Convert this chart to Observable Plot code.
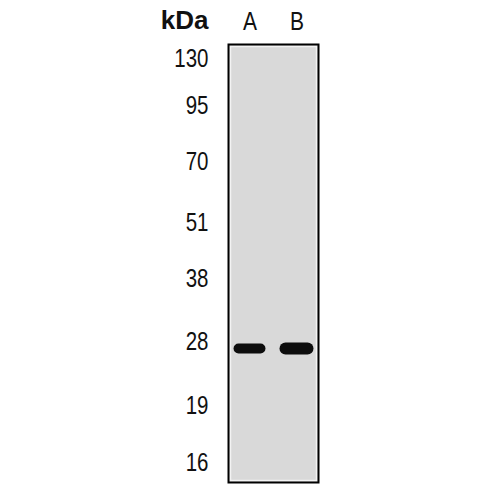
<!DOCTYPE html>
<html><head><meta charset="utf-8">
<script src="https://cdn.jsdelivr.net/npm/d3@7"></script>
<script src="https://cdn.jsdelivr.net/npm/@observablehq/plot@0.6"></script>
<style>body{margin:0;background:#fff;}</style>
</head><body><div id="chart"></div>
<script>
const lanes = ["A", "B"];
const markerKDa = [130, 95, 70, 51, 38, 28, 19, 16];
const markerRf = [0.032, 0.139, 0.267, 0.405, 0.534, 0.677, 0.824, 0.954];
const bandLane = ["A", "B"];
const bandRf = [0.694, 0.694];
const bandIntensity = [0.83, 1.0];

const bands = bandLane.map((l, i) => ({lane: l, rf: bandRf[i], intensity: bandIntensity[i]}));

const font = "'Liberation Sans', Arial, sans-serif";
const chart = Plot.plot({
  width: 500, height: 500,
  marginTop: 44, marginBottom: 18, marginLeft: 228, marginRight: 182,
  style: {fontFamily: font, fontSize: "21px", color: "#111", background: "#fff"},
  x: {type: "band", domain: lanes, paddingInner: 0.3, paddingOuter: 0.1},
  y: {domain: [0, 1], reverse: true},
  marks: [
    Plot.frame({fill: "#d9d9d9"}),
    Plot.frame({stroke: "#f3f3f3", strokeWidth: 1.5, inset: 2}),
    Plot.tickY(bands, {x: "lane", y: "rf", stroke: "#0d0d0d", strokeWidth: d => 12 * d.intensity,
      strokeLinecap: "round", insetLeft: 5.5, insetRight: 5.5, imageFilter: "blur(0.7px)"}),
    Plot.frame({stroke: "#000", strokeWidth: 2}),
    Plot.axisY(markerRf, {anchor: "left", tickSize: 0, tickPadding: 20, label: null, fill: "#111",
      tickFormat: d => String(markerKDa[markerRf.indexOf(d)]), fontSize: 20.5}),
    Plot.axisX(lanes, {anchor: "top", tickSize: 0, tickPadding: 16, label: null, fill: "#111", fontSize: 21}),
    Plot.text(["kDa"], {frameAnchor: "top-left", text: d => d, textAnchor: "end", lineAnchor: "middle",
      dx: -20, dy: -24, fontWeight: "bold", fontSize: 26, fill: "#111"})
  ]
});
document.getElementById("chart").append(chart);

// the reference's lettering is drawn tall and narrow: stretch tick labels vertically about their centres
d3.select(chart).selectAll("text").each(function() {
  if (this.textContent === "kDa") return;
  const k = lanes.includes(this.textContent) ? 1.22 : 1.3;
  const b = this.getBBox();
  const cy = b.y + b.height / 2;
  const t = this.getAttribute("transform") || "";
  this.setAttribute("transform", `${t} translate(0,${cy}) scale(1,${k}) translate(0,${-cy})`);
});
</script>
</body></html>
